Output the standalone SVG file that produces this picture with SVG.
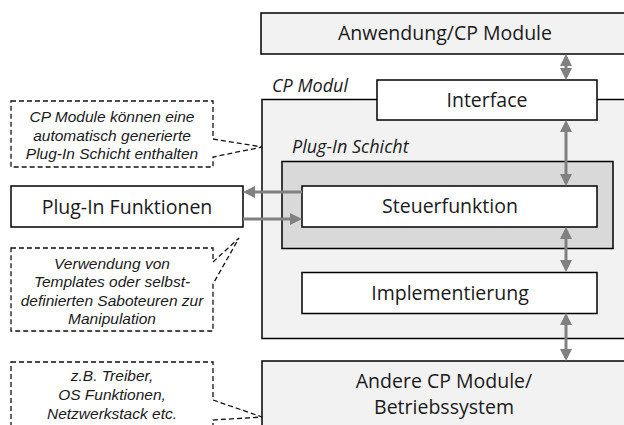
<svg xmlns="http://www.w3.org/2000/svg" width="624" height="425" viewBox="0 0 624 425">
  <style>
    .box { stroke: #000; stroke-width: 1.5; }
    .light { fill: #f2f2f2; }
    .mid { fill: #d9d9d9; }
    .white { fill: #fff; }
    .lbl { font-family: "Open Sans", "Noto Sans", sans-serif; font-size: 19.5px; fill: #1a1a1a; text-anchor: middle; }
    .it { font-family: "Open Sans", "Noto Sans", sans-serif; font-style: italic; font-size: 18px; fill: #1a1a1a; }
    .note { font-family: "Liberation Sans", Arial, sans-serif; font-style: italic; font-size: 15.5px; fill: #1a1a1a; text-anchor: middle; }
    .callout { fill: #fff; stroke: #111; stroke-width: 1.3; stroke-dasharray: 5 3; }
    .conn { stroke: #808080; stroke-width: 3; fill: none; }
  </style>
  <defs>
    <marker id="ah" markerWidth="4" markerHeight="4" refX="3" refY="2" orient="auto-start-reverse" markerUnits="strokeWidth">
      <path d="M0,0 L4,2 L0,4 Z" fill="#808080"/>
    </marker>
  </defs>

  <g id="anwendung">
    <rect class="box light" x="261" y="13" width="370" height="41"/>
    <text class="lbl" x="445" y="40">Anwendung/CP Module</text>
  </g>

  <g id="cp-modul">
    <rect class="box light" x="262" y="99.5" width="370" height="239"/>
    <text class="it" x="272" y="92">CP Modul</text>
  </g>

  <g id="interface">
    <rect class="box white" x="377" y="80" width="220" height="40"/>
    <text class="lbl" x="487" y="107">Interface</text>
  </g>

  <g id="plugin-schicht">
    <rect class="box mid" x="282" y="161.5" width="331" height="87"/>
    <text class="it" x="292" y="153">Plug-In Schicht</text>
  </g>

  <g id="steuerfunktion">
    <rect class="box white" x="302" y="186" width="295" height="41"/>
    <text class="lbl" x="450" y="213">Steuerfunktion</text>
  </g>

  <g id="implementierung">
    <rect class="box white" x="302" y="272.5" width="295" height="41"/>
    <text class="lbl" x="450" y="300">Implementierung</text>
  </g>

  <g id="andere-module">
    <rect class="box light" x="262" y="361" width="370" height="70"/>
    <text class="lbl" x="444" y="388">Andere CP Module/</text>
    <text class="lbl" x="444" y="414">Betriebssystem</text>
  </g>

  <g id="plugin-funktionen">
    <rect class="box white" x="11" y="186" width="232" height="41"/>
    <text class="lbl" x="127" y="214">Plug-In Funktionen</text>
  </g>

  <g id="note-schicht">
    <path class="callout" d="M11,101 H213 V139 L262,147 L213,157 V167 H11 Z"/>
    <text class="note" x="112" y="122">CP Module können eine</text>
    <text class="note" x="112" y="140.5">automatisch generierte</text>
    <text class="note" x="112" y="159">Plug-In Schicht enthalten</text>
  </g>

  <g id="note-saboteure">
    <path class="callout" d="M11,248 H213 V262 L239,238 L213,284 V331 H11 Z"/>
    <text class="note" x="112" y="268.5">Verwendung von</text>
    <text class="note" x="112" y="287">Templates oder selbst-</text>
    <text class="note" x="112" y="305.5">definierten Saboteuren zur</text>
    <text class="note" x="112" y="324">Manipulation</text>
  </g>

  <g id="note-treiber">
    <path class="callout" d="M11,362 H213 V400 L262,417 L213,420 V432 H11 Z"/>
    <text class="note" x="112" y="381">z.B. Treiber,</text>
    <text class="note" x="112" y="400">OS Funktionen,</text>
    <text class="note" x="112" y="419">Netzwerkstack etc.</text>
  </g>

  <g id="connectors">
    <line class="conn" x1="566" y1="57" x2="566" y2="77" marker-start="url(#ah)" marker-end="url(#ah)"/>
    <line class="conn" x1="566" y1="123" x2="566" y2="183" marker-start="url(#ah)" marker-end="url(#ah)"/>
    <line class="conn" x1="566" y1="230" x2="566" y2="269" marker-start="url(#ah)" marker-end="url(#ah)"/>
    <line class="conn" x1="566" y1="316" x2="566" y2="358" marker-start="url(#ah)" marker-end="url(#ah)"/>
    <line class="conn" x1="302" y1="192" x2="246" y2="192" marker-end="url(#ah)"/>
    <line class="conn" x1="243" y1="219" x2="299" y2="219" marker-end="url(#ah)"/>
  </g>
</svg>
